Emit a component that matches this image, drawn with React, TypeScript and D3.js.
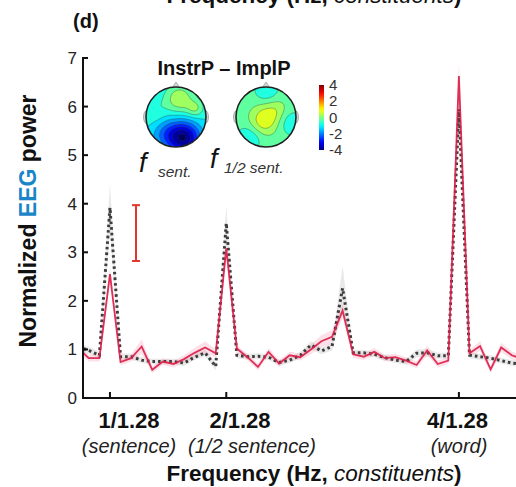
import React from "react";
import * as d3 from "d3";

// ---- data (frequency bin index k: f = k / (11 * 1.28) Hz) ----
const bins = [8,9,10,11,12,13,14,15,16,17,18,19,20,21,22,23,24,25,26,27,28,29,30,31,32,33,34,35,36,37,38,39,40,41,42,43,44,45,46,47,48,49,50];
const instrP = [1.02,0.82,0.82,2.55,0.74,0.82,1.06,0.58,0.75,0.70,0.80,0.93,1.04,0.92,3.08,1.02,0.84,0.64,0.95,0.71,0.88,0.84,1.00,1.17,1.26,1.80,0.90,0.85,0.95,0.82,0.84,0.77,0.68,0.98,0.70,0.77,6.63,0.92,1.07,0.59,1.04,0.88,0.80];
const instrSem = [0.08,0.07,0.07,0.15,0.07,0.07,0.15,0.07,0.07,0.07,0.08,0.1,0.13,0.08,0.15,0.07,0.07,0.07,0.08,0.07,0.07,0.07,0.1,0.12,0.14,0.15,0.07,0.07,0.08,0.07,0.07,0.07,0.07,0.1,0.07,0.07,0.3,0.07,0.1,0.07,0.1,0.08,0.08];
const implP = [1.05,0.98,0.88,3.92,0.85,0.85,0.78,0.75,0.75,0.75,0.72,0.84,0.93,0.65,3.60,0.88,0.85,0.86,0.84,0.73,0.78,0.88,1.09,0.97,1.06,2.26,0.93,0.93,0.90,0.83,0.78,0.75,0.92,0.93,0.87,0.87,5.95,0.88,0.85,0.82,0.77,0.72,0.70];
const implSem = [0.08,0.07,0.07,0.5,0.07,0.06,0.06,0.06,0.06,0.06,0.06,0.06,0.07,0.08,0.35,0.06,0.06,0.06,0.06,0.06,0.06,0.07,0.08,0.07,0.08,0.45,0.06,0.06,0.06,0.06,0.06,0.06,0.08,0.08,0.06,0.06,0.4,0.06,0.06,0.06,0.06,0.06,0.06];

const yTicks = [0,1,2,3,4,5,6,7];
const xTickBins = [11, 22, 44];
const xTickLabels = ["1/1.28", "2/1.28", "4/1.28"];
const xTickNotes = ["(sentence)", "(1/2 sentence)", "(word)"];
const errBar = [2.82, 3.97];
const cbarTicks = [4, 2, 0, -2, -4];

// topography blobs: [u, v, amplitude, sigma] in head-normalised coords
const topoLeftBase = -0.9;
const topoLeftBlobs = [[0.1,-0.62,1.35,0.33],[0.62,-0.3,0.9,0.2],[0.25,0.68,-3.0,0.38],[-0.35,0.55,-1.0,0.35],[-0.75,-0.2,0.4,0.3]];
const topoRightBase = -0.2;
const topoRightBlobs = [[0.0,0.0,0.95,0.32],[-0.2,0.25,0.35,0.28],[0.35,-0.3,0.35,0.25],[0.0,-0.9,-0.7,0.3],[-0.6,0.7,-0.8,0.3],[0.85,0.2,-0.7,0.3]];

const FONT = "Liberation Sans, Arial, Helvetica, sans-serif";

function jet(v: number) {
  const t = (v + 4) / 8;
  const c = (x: number) => Math.max(0, Math.min(1, x));
  const r = c(1.5 - Math.abs(4 * t - 3));
  const g = c(1.5 - Math.abs(4 * t - 2));
  const b = c(1.5 - Math.abs(4 * t - 1));
  return d3.rgb(r * 255, g * 255, b * 255).formatHex();
}

function Topo({ cx, cy, r, base, blobs, id }: any) {
  const n = 64;
  const ext = 1.1;
  const vals: number[] = [];
  for (let j = 0; j < n; j++) {
    for (let i = 0; i < n; i++) {
      const u = (i / (n - 1)) * 2 * ext - ext;
      const v = (j / (n - 1)) * 2 * ext - ext;
      let val = base;
      for (const [bu, bv, a, s] of blobs) {
        val += a * Math.exp(-((u - bu) ** 2 + (v - bv) ** 2) / (2 * s * s));
      }
      vals.push(val);
    }
  }
  const thresholds = d3.range(-4.5, 4.51, 0.5);
  const contours = d3.contours().size([n, n]).thresholds(thresholds)(vals);
  const side = 2 * r * ext;
  const proj = d3.geoIdentity().scale(side / (n - 1)).translate([cx - r * ext, cy - r * ext]);
  const path = d3.geoPath(proj as any);
  return (
    <g>
      <defs>
        <clipPath id={id}>
          <circle cx={cx} cy={cy} r={r} />
        </clipPath>
      </defs>
      <path d={`M${cx - 4},${cy - r + 1} L${cx},${cy - r - 5} L${cx + 4},${cy - r + 1}Z`} fill="#cfd6d8" stroke="#888" strokeWidth={0.6} />
      <ellipse cx={cx - r} cy={cy} rx={2.5} ry={6} fill="#cfd6d8" stroke="#888" strokeWidth={0.6} />
      <ellipse cx={cx + r} cy={cy} rx={2.5} ry={6} fill="#cfd6d8" stroke="#888" strokeWidth={0.6} />
      <g clipPath={`url(#${id})`}>
        <circle cx={cx} cy={cy} r={r} fill={jet(-4.5)} />
        {contours.map((c: any, i: number) => (
          <path key={i} d={path(c) || ""} fill={jet(c.value + 0.25)} stroke="#2a3a3a" strokeWidth={0.5} strokeOpacity={0.7} />
        ))}
      </g>
      <circle cx={cx} cy={cy} r={r} fill="none" stroke="#222" strokeWidth={1.6} />
    </g>
  );
}

export default function App() {
  const W = 516, H = 487;
  const x = d3.scaleLinear().domain([8.45, 49.4]).range([83, 516]);
  const y = d3.scaleLinear().domain([0, 7]).range([398, 58]);

  const lineGen = d3.line<number>().x((_, i) => x(bins[i])).y((d) => y(d));
  const band = (vals: number[], sem: number[]) =>
    d3.area<number>().x((_, i) => x(bins[i])).y0((d, i) => y(d - sem[i])).y1((d, i) => y(d + sem[i]))(vals) || "";

  const cbY = d3.scaleLinear().domain([4, -4]).range([85, 150]);
  const cbStops = d3.range(0, 1.0001, 0.05);

  return (
    <svg width={W} height={H} style={{ position: "absolute", left: 0, top: 0, background: "#fff" }} fontFamily={FONT}>
      <defs>
        <clipPath id="plotclip">
          <rect x={83} y={40} width={W - 83} height={360} />
        </clipPath>
        <linearGradient id="cbar" x1="0" y1="1" x2="0" y2="0">
          {cbStops.map((t, i) => (
            <stop key={i} offset={t} stopColor={jet(-4 + 8 * t)} />
          ))}
        </linearGradient>
      </defs>

      {/* cut-off label from panel above */}
      <text x={314} y={3} textAnchor="middle" fontSize={22.5} fontWeight="bold" fill="#111">
        Frequency (Hz, <tspan fontStyle="italic" fontWeight="normal">constituents</tspan>)
      </text>
      <text x={73} y={28} fontSize={20} fontWeight="bold" fill="#111">(d)</text>

      {/* series */}
      <g clipPath="url(#plotclip)">
        <path d={band(implP, implSem)} fill="#9a9a9a" fillOpacity={0.22} />
        <path d={band(instrP, instrSem)} fill="#f06a8a" fillOpacity={0.2} />
        <path d={lineGen(implP) || ""} fill="none" stroke="#3d3d3d" strokeWidth={3} strokeDasharray="2.6 3" />
        <path d={lineGen(instrP) || ""} fill="none" stroke="#dc1e4a" strokeWidth={1.8} strokeOpacity={0.92} strokeLinejoin="miter" />
      </g>

      {/* axes */}
      <line x1={83} x2={83} y1={57} y2={399} stroke="#111" strokeWidth={2} />
      <line x1={82} x2={W} y1={398} y2={398} stroke="#111" strokeWidth={2} />
      {yTicks.map((t) => (
        <g key={t}>
          <line x1={83} x2={88} y1={y(t)} y2={y(t)} stroke="#111" strokeWidth={2} />
          <text x={77} y={y(t) + 6} textAnchor="end" fontSize={17} fill="#222">{t}</text>
        </g>
      ))}
      {xTickBins.map((b, i) => (
        <line key={i} x1={x(b)} x2={x(b)} y1={398} y2={392} stroke="#111" strokeWidth={2} />
      ))}
      {[129, 240, 457.5].map((cx, i) => (
        <text key={"l" + i} x={cx} y={428} textAnchor="middle" fontSize={22} fontWeight="bold" fill="#111">{xTickLabels[i]}</text>
      ))}
      {[129, 252, 459].map((cx, i) => (
        <text key={"n" + i} x={cx} y={453} textAnchor="middle" fontSize={20} fontStyle="italic" fill="#222">{xTickNotes[i]}</text>
      ))}
      <text x={314} y={481} textAnchor="middle" fontSize={22.5} fontWeight="bold" fill="#111">
        Frequency (Hz, <tspan fontStyle="italic" fontWeight="normal">constituents</tspan>)
      </text>

      {/* y label */}
      <text transform="translate(36,221) rotate(-90)" textAnchor="middle" fontSize={23} fontWeight="bold" fill="#111">
        Normalized <tspan fill="#1a86c8">EEG</tspan> power
      </text>

      {/* error bar */}
      <g stroke="#e2352b" strokeWidth={2}>
        <line x1={136} x2={136} y1={y(errBar[0])} y2={y(errBar[1])} />
        <line x1={132} x2={140} y1={y(errBar[1])} y2={y(errBar[1])} />
        <line x1={132} x2={140} y1={y(errBar[0])} y2={y(errBar[0])} />
      </g>

      {/* inset */}
      <text x={224} y={75} textAnchor="middle" fontSize={20} fontWeight="bold" fill="#111">InstrP – ImplP</text>
      <Topo cx={176} cy={117} r={30} base={topoLeftBase} blobs={topoLeftBlobs} id="topoL" />
      <Topo cx={266} cy={117} r={30} base={topoRightBase} blobs={topoRightBlobs} id="topoR" />
      <rect x={319} y={85} width={5} height={65} fill="url(#cbar)" />
      {cbarTicks.map((t) => (
        <text key={t} x={329} y={cbY(t) + 5} fontSize={15} fill="#333">{t}</text>
      ))}
      <text x={139} y={172} fontSize={27} fontStyle="italic" fill="#111">f</text>
      <text x={158} y={177} fontSize={15.5} fontStyle="italic" fill="#333">sent.</text>
      <text x={210} y={168} fontSize={27} fontStyle="italic" fill="#111">f</text>
      <text x={224} y={173} fontSize={15.5} fontStyle="italic" fill="#333">1/2 sent.</text>
    </svg>
  );
}
